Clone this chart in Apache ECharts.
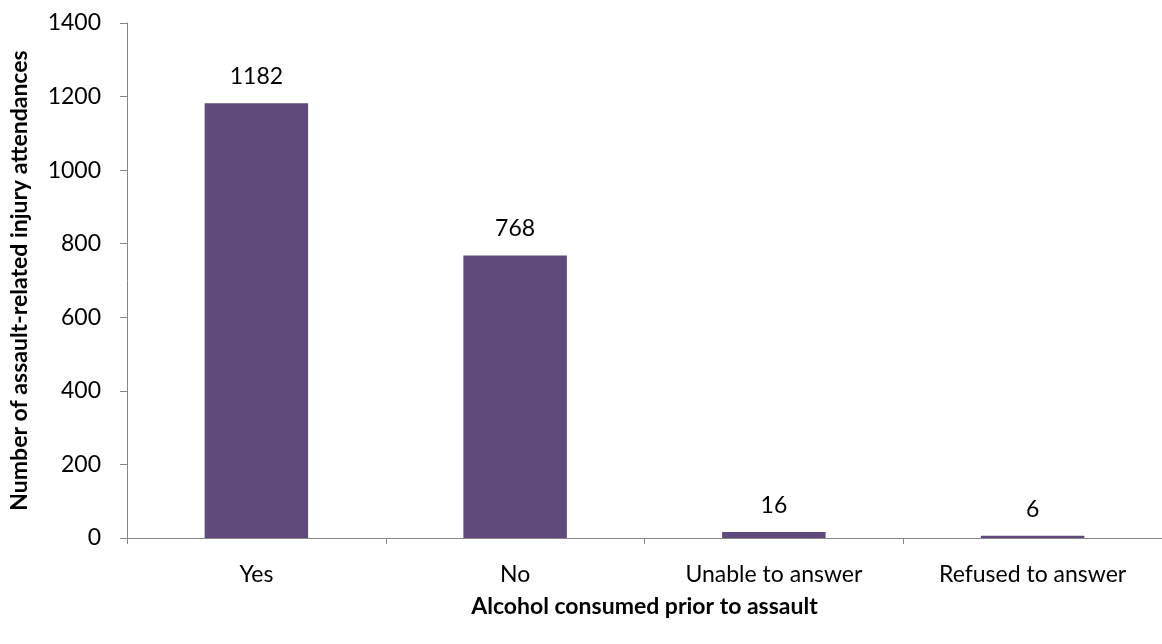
<!DOCTYPE html>
<html><head><meta charset="utf-8">
<script src="https://cdn.jsdelivr.net/npm/echarts@6/dist/echarts.min.js"></script>
<style>html,body{margin:0;padding:0;background:#fff}#c{width:1162px;height:644px}</style>
</head><body><div id="c"></div>
<script>
const categories = ["Yes", "No", "Unable to answer", "Refused to answer"];
const values = [1182, 768, 16, 6];
const yTicks = [0, 200, 400, 600, 800, 1000, 1200, 1400];
const xTitle = "Alcohol consumed prior to assault";
const yTitle = "Number of assault-related injury attendances";

const font = "Lato, 'Open Sans', sans-serif";
const chart = echarts.init(document.getElementById('c'));
chart.setOption({
  animation: false,
  grid: {left: 124, top: 23, width: 1042, bottom: 106, containLabel: false},
  xAxis: {
    type: 'category', data: categories,
    axisLine: {lineStyle: {color: '#868686', width: 1}},
    axisTick: {show: true, length: 6, lineStyle: {color: '#868686'}},
    axisLabel: {color: '#000', fontSize: 23, fontFamily: font, margin: 25},
    name: xTitle, nameLocation: 'middle', nameGap: 57,
    nameTextStyle: {color: '#000', fontSize: 23, fontWeight: 'bold', fontFamily: font}
  },
  yAxis: {
    type: 'value', min: yTicks[0], max: yTicks[yTicks.length - 1], interval: 200,
    splitLine: {show: false},
    axisLine: {show: true, lineStyle: {color: '#868686', width: 1}},
    axisTick: {show: true, length: 7, lineStyle: {color: '#868686'}},
    axisLabel: {color: '#000', fontSize: 23, fontFamily: font, margin: 26, formatter: v => String(v)},
    name: yTitle, nameLocation: 'middle', nameGap: 96, nameRotate: 90,
    nameTextStyle: {color: '#000', fontSize: 23, fontWeight: 'bold', fontFamily: font}
  },
  series: [{
    type: 'bar', data: values, barWidth: '40%',
    itemStyle: {color: '#604A7B'},
    label: {show: true, position: 'top', distance: 15, color: '#000', fontSize: 23, fontFamily: font}
  }]
});
</script></body></html>
